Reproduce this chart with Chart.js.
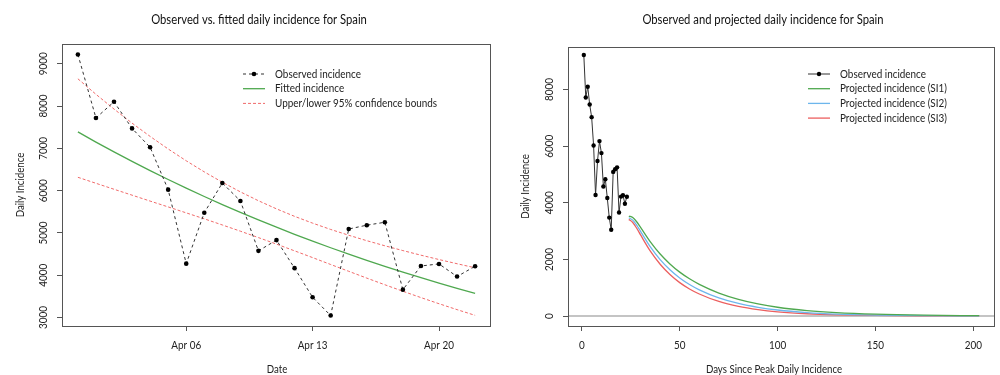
<!DOCTYPE html>
<html>
<head>
<meta charset="utf-8">
<title>Spain daily incidence</title>
<script src="https://cdn.jsdelivr.net/npm/chart.js@4.4.1/dist/chart.umd.min.js"></script>
<style>
    html, body { margin: 0; padding: 0; background: #fff; }
    .wrap { position: relative; width: 1000px; height: 375px; }
    .panel { position: absolute; top: 0; width: 500px; height: 375px; }
    #left { left: 0; }
    #right { left: 500px; }
</style>
</head>
<body>
<div class="wrap">
    <div class="panel" id="left"><canvas id="fit-chart" width="500" height="375"></canvas></div>
    <div class="panel" id="right"><canvas id="proj-chart" width="500" height="375"></canvas></div>
</div>
<script>
// Observed daily cases, Mar 31 .. Apr 22 (day index 0..22)
const obsDates = ['Mar 31', 'Apr 01', 'Apr 02', 'Apr 03', 'Apr 04', 'Apr 05', 'Apr 06', 'Apr 07',
    'Apr 08', 'Apr 09', 'Apr 10', 'Apr 11', 'Apr 12', 'Apr 13', 'Apr 14', 'Apr 15', 'Apr 16',
    'Apr 17', 'Apr 18', 'Apr 19', 'Apr 20', 'Apr 21', 'Apr 22'];
const observed = [9222, 7719, 8102, 7472, 7026, 6023, 4273, 5478, 6180, 5756, 4576, 4830,
    4167, 3477, 3045, 5092, 5183, 5252, 3658, 4218, 4266, 3968, 4211];
const fitted = [7390, 7149, 6917, 6691, 6473, 6263, 6059, 5862, 5671, 5486, 5307, 5135,
    4967, 4806, 4649, 4498, 4351, 4210, 4073, 3940, 3812, 3688, 3568];
const upperBound = [8646, 8279, 7930, 7597, 7283, 6986, 6706, 6444, 6199, 5971, 5761, 5569,
    5392, 5231, 5082, 4945, 4816, 4696, 4582, 4473, 4370, 4271, 4175];
const lowerBound = [6316, 6174, 6033, 5893, 5753, 5615, 5474, 5333, 5188, 5041, 4889, 4735,
    4576, 4416, 4253, 4092, 3931, 3774, 3620, 3470, 3325, 3185, 3050];
const dateTicks = [6, 13, 20];
const dateTickLabels = ['Apr 06', 'Apr 13', 'Apr 20'];
const fitYTicks = [3000, 4000, 5000, 6000, 7000, 8000, 9000];

// Right panel: days since peak
const peakDays = [1, 2, 3, 4, 5, 6, 7, 8, 9, 10, 11, 12, 13, 14, 15, 16, 17, 18, 19, 20, 21, 22, 23];
const projDays = [24, 26, 28, 30, 35, 40, 45, 50, 55, 60, 70, 80, 90, 100, 115, 130, 150, 175, 203];
const projSI1 = [3530, 3480, 3330, 3130, 2620, 2190, 1840, 1550, 1315, 1120, 812, 590, 428, 310, 192, 119, 63, 28, 12];
const projSI2 = [3470, 3388, 3211, 2990, 2443, 1994, 1635, 1345, 1114, 926, 640, 443, 307, 212, 122, 70, 34, 13, 5];
const projSI3 = [3414, 3304, 3104, 2864, 2290, 1828, 1467, 1180, 956, 778, 514, 341, 226, 149, 80, 43, 19, 7, 2];
const projXTicks = [0, 50, 100, 150, 200];
const projYTicks = [0, 2000, 4000, 6000, 8000];

const FONT = 'Lato, "Open Sans", sans-serif';
const INK = '#222';
const AXIS = '#555';
const SQUEEZE = 0.9; // reference font is narrower than Lato

// text drawn a bit condensed, optionally rotated
function drawText(ctx, text, x, y, opts) {
    ctx.save();
    ctx.font = (opts.size || 11) + 'px ' + FONT;
    ctx.fillStyle = opts.color || INK;
    ctx.textAlign = opts.align || 'center';
    ctx.textBaseline = 'middle';
    ctx.translate(x, y);
    if (opts.rotate) ctx.rotate(-Math.PI / 2);
    ctx.scale(opts.squeeze || SQUEEZE, 1);
    ctx.fillText(text, 0, 0);
    ctx.restore();
}

// draws the R style bits: box, labels, title, legend, zero line
const rStyle = {
    id: 'rStyle',
    beforeDatasetsDraw(chart, args, opts) {
        if (!opts.zeroLine) return;
        const { ctx, chartArea } = chart;
        const y = chart.scales.y.getPixelForValue(0);
        ctx.save();
        ctx.strokeStyle = '#c4c4c4';
        ctx.lineWidth = 2;
        ctx.beginPath();
        ctx.moveTo(chartArea.left, y);
        ctx.lineTo(chartArea.right, y);
        ctx.stroke();
        ctx.restore();
    },
    afterDraw(chart, args, opts) {
        const { ctx, chartArea } = chart;
        const xScale = chart.scales.x;
        const yScale = chart.scales.y;
        ctx.save();

        // frame
        ctx.strokeStyle = AXIS;
        ctx.lineWidth = 1;
        ctx.strokeRect(chartArea.left + 0.5, chartArea.top + 0.5,
            chartArea.right - chartArea.left - 1, chartArea.bottom - chartArea.top);
        ctx.restore();

        // tick labels
        yScale.ticks.forEach(t => {
            drawText(ctx, String(t.value), opts.yLabelX, yScale.getPixelForValue(t.value), { rotate: true });
        });
        xScale.ticks.forEach(t => {
            drawText(ctx, opts.xLabel(t.value), xScale.getPixelForValue(t.value), 345, {});
        });

        // axis titles and main title
        const midY = (chartArea.top + chartArea.bottom) / 2;
        drawText(ctx, 'Daily Incidence', opts.yTitleX, midY, { rotate: true, squeeze: 0.88 });
        drawText(ctx, opts.xTitle, opts.xTitleX, 369, { squeeze: 0.88 });
        drawText(ctx, opts.title, opts.titleX, 20, { size: 12.5, color: '#111' });

        // legend
        opts.legend.forEach((item, i) => {
            const ds = chart.data.datasets[item.dataset];
            const y = opts.legendY + i * 14.7;
            ctx.save();
            ctx.strokeStyle = ds.borderColor;
            ctx.lineWidth = ds.borderWidth;
            ctx.setLineDash(ds.borderDash || []);
            ctx.beginPath();
            ctx.moveTo(opts.legendX, y);
            ctx.lineTo(opts.legendX + 22, y);
            ctx.stroke();
            ctx.setLineDash([]);
            if (ds.pointRadius > 0) {
                ctx.fillStyle = '#000';
                ctx.beginPath();
                ctx.arc(opts.legendX + 11, y, ds.pointRadius, 0, Math.PI * 2);
                ctx.fill();
            }
            ctx.restore();
            drawText(ctx, item.text, opts.legendX + 32, y, { align: 'left' });
        });
    }
};

function pairs(xs, ys) {
    return xs.map((x, i) => ({ x: x, y: ys[i] }));
}

function axis(min, max, ticks, size, isX) {
    return {
        type: 'linear',
        min: min,
        max: max,
        afterBuildTicks: (scale) => { scale.ticks = ticks.map(v => ({ value: v })); },
        afterFit: (scale) => { if (isX) scale.height = size; else scale.width = size; },
        grid: { drawOnChartArea: false, drawTicks: true, tickLength: 5, color: AXIS, tickColor: AXIS },
        border: { display: false },
        ticks: { display: false }
    };
}

const obsIndex = obsDates.map((d, i) => i);

// Left: observed vs fitted
new Chart(document.getElementById('fit-chart').getContext('2d'), {
    type: 'line',
    data: {
        datasets: [
            {
                label: 'Observed incidence',
                data: pairs(obsIndex, observed),
                borderColor: '#333',
                borderWidth: 1,
                borderDash: [3, 3],
                pointRadius: 2.3,
                pointBackgroundColor: '#000',
                pointBorderWidth: 0
            },
            {
                label: 'Fitted incidence',
                data: pairs(obsIndex, fitted),
                borderColor: '#4fa84f',
                borderWidth: 1.3,
                pointRadius: 0
            },
            {
                label: 'Upper 95%',
                data: pairs(obsIndex, upperBound),
                borderColor: '#f06a6a',
                borderWidth: 1,
                borderDash: [3, 2],
                pointRadius: 0
            },
            {
                label: 'Lower 95%',
                data: pairs(obsIndex, lowerBound),
                borderColor: '#f06a6a',
                borderWidth: 1,
                borderDash: [3, 2],
                pointRadius: 0
            }
        ]
    },
    options: {
        responsive: false,
        animation: false,
        layout: { padding: { top: 44, right: 9, left: 0, bottom: 0 } },
        plugins: {
            legend: { display: false },
            tooltip: { enabled: false },
            rStyle: {
                title: 'Observed vs. fitted daily incidence for Spain',
                titleX: 259,
                yLabelX: 43,
                yTitleX: 20,
                xTitle: 'Date',
                xTitleX: 277,
                xLabel: (v) => dateTickLabels[dateTicks.indexOf(v)],
                legendX: 243,
                legendY: 74,
                legend: [
                    { dataset: 0, text: 'Observed incidence' },
                    { dataset: 1, text: 'Fitted incidence' },
                    { dataset: 2, text: 'Upper/lower 95% confidence bounds' }
                ]
            }
        },
        scales: {
            x: axis(-0.88, 22.88, dateTicks, 49, true),
            y: axis(2798, 9469, fitYTicks, 62, false)
        }
    },
    plugins: [rStyle]
});

// Right: observed and projected
new Chart(document.getElementById('proj-chart').getContext('2d'), {
    type: 'line',
    data: {
        datasets: [
            {
                label: 'Observed incidence',
                data: pairs(peakDays, observed),
                borderColor: '#333',
                borderWidth: 1,
                pointRadius: 2.2,
                pointBackgroundColor: '#000',
                pointBorderWidth: 0
            },
            {
                label: 'Projected incidence (SI1)',
                data: pairs(projDays, projSI1),
                borderColor: '#4fa84f',
                borderWidth: 1.3,
                pointRadius: 0,
                cubicInterpolationMode: 'monotone'
            },
            {
                label: 'Projected incidence (SI2)',
                data: pairs(projDays, projSI2),
                borderColor: '#6db6ec',
                borderWidth: 1.3,
                pointRadius: 0,
                cubicInterpolationMode: 'monotone'
            },
            {
                label: 'Projected incidence (SI3)',
                data: pairs(projDays, projSI3),
                borderColor: '#ec5f5f',
                borderWidth: 1.3,
                pointRadius: 0,
                cubicInterpolationMode: 'monotone'
            }
        ]
    },
    options: {
        responsive: false,
        animation: false,
        layout: { padding: { top: 47, right: 5, left: 0, bottom: 0 } },
        plugins: {
            legend: { display: false },
            tooltip: { enabled: false },
            rStyle: {
                title: 'Observed and projected daily incidence for Spain',
                titleX: 263,
                yLabelX: 49,
                yTitleX: 25,
                xTitle: 'Days Since Peak Daily Incidence',
                xTitleX: 274,
                xLabel: (v) => String(v),
                legendX: 308,
                legendY: 74,
                zeroLine: true,
                legend: [
                    { dataset: 0, text: 'Observed incidence' },
                    { dataset: 1, text: 'Projected incidence (SI1)' },
                    { dataset: 2, text: 'Projected incidence (SI2)' },
                    { dataset: 3, text: 'Projected incidence (SI3)' }
                ]
            }
        },
        scales: {
            x: axis(-7.08, 211.08, projXTicks, 49, true),
            y: axis(-353, 9504, projYTicks, 68, false)
        }
    },
    plugins: [rStyle]
});
</script>
</body>
</html>
